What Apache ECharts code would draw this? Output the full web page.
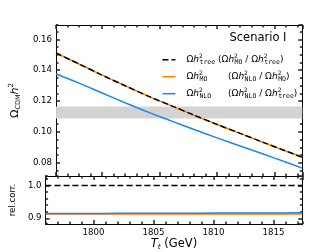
<!DOCTYPE html>
<html>
<head>
<meta charset="utf-8">
<script src="https://cdn.jsdelivr.net/npm/echarts@6/dist/echarts.min.js"></script>
<style>html,body{margin:0;padding:0;background:#fff}#c{width:336px;height:252px}</style>
</head>
<body>
<div id="c"></div>
<script>
// ---- data ----
const tGeV      = [1796, 1798, 1800, 1802, 1804, 1806, 1808, 1810, 1812, 1814, 1816, 1817.4];
const omegaTree = [0.1511, 0.1440, 0.1368, 0.1299, 0.1232, 0.1170, 0.1108, 0.1048, 0.0990, 0.0932, 0.0875, 0.0835];
const omegaMO   = [0.1511, 0.1440, 0.1368, 0.1299, 0.1232, 0.1170, 0.1108, 0.1048, 0.0990, 0.0932, 0.0875, 0.0835];
const omegaNLO  = [0.1375, 0.1316, 0.1252, 0.1189, 0.1128, 0.1071, 0.1015, 0.0961, 0.0908, 0.0856, 0.0803, 0.0765];
const ratioTree = [1.0, 1.0, 1.0, 1.0, 1.0, 1.0, 1.0, 1.0, 1.0, 1.0, 1.0, 1.0];
const ratioMO   = [0.913, 0.913, 0.913, 0.913, 0.913, 0.913, 0.913, 0.913, 0.913, 0.913, 0.913, 0.913];
const ratioNLO  = [0.9145, 0.9146, 0.9148, 0.9150, 0.9152, 0.9154, 0.9156, 0.9158, 0.9160, 0.9162, 0.9164, 0.9166];
const bandOmega = [0.1086, 0.1164];
// tick spacing (major / minor)
const xMajorStep = 5, xMinorStep = 1;
const yMainMajorStep = 0.02, yMainMinorStep = 0.005;
const yRelMajorStep = 0.1, yRelMinorStep = 0.02;

const FONT = 'DejaVu Sans';
const MONO = 'DejaVu Sans Mono';
const AX = '#000';
const TICK = '#222';
const ORANGE = '#ff8000';
const BLUE = '#1e88e5';

const xRange = {min: 1796, max: 1817.4};
const yMainRange = {min: 0.07138, max: 0.16927};
const yRelRange = {min: 0.8824, max: 1.0294};

// splitNumber chosen so that ECharts' nice interval equals the wanted step
const splitFor = (r, step) => Math.round((r.max - r.min) / step);

function axis(grid, pos, range, step, len, extra) {
  return Object.assign({
    type: 'value', gridIndex: grid, position: pos, min: range.min, max: range.max,
    splitNumber: splitFor(range, step),
    axisLine: {show: true, onZero: false, lineStyle: {color: AX, width: 1}},
    axisTick: {show: true, inside: true, length: len, lineStyle: {color: TICK, width: 1.5}},
    axisLabel: {show: false},
    splitLine: {show: false}
  }, extra || {});
}
const lbl = dec => ({show: true, showMinLabel: false, showMaxLabel: false, fontFamily: FONT, fontSize: 8.6,
  color: '#000', margin: 4, formatter: v => Number(v).toFixed(dec)});

const xAxes = [];
const yAxes = [];
// grid 0
xAxes.push(axis(0, 'bottom', xRange, xMajorStep, 4));          // 0
xAxes.push(axis(0, 'bottom', xRange, xMinorStep, 2.5, {interval: xMinorStep}));  // 1
xAxes.push(axis(0, 'top', xRange, xMajorStep, 4));             // 2
xAxes.push(axis(0, 'top', xRange, xMinorStep, 2.5, {interval: xMinorStep}));     // 3
// grid 1
xAxes.push(axis(1, 'bottom', xRange, xMajorStep, 4, {
  axisLabel: lbl(0),
  name: '{t|T}{s|t}{g| (GeV)}', nameLocation: 'middle', nameGap: 13,
  nameTextStyle: {rich: {
    t: {fontFamily: FONT, fontSize: 11.5, fontStyle: 'italic', lineHeight: 14, color: '#000'},
    s: {fontFamily: FONT, fontSize: 7.5, fontStyle: 'italic', lineHeight: 7, verticalAlign: 'bottom', color: '#000'},
    g: {fontFamily: FONT, fontSize: 11.5, lineHeight: 14, color: '#000'}
  }}
}));                                                            // 4
xAxes.push(axis(1, 'bottom', xRange, xMinorStep, 2.5, {interval: xMinorStep}));  // 5
xAxes.push(axis(1, 'top', xRange, xMajorStep, 4));             // 6
xAxes.push(axis(1, 'top', xRange, xMinorStep, 2.5, {interval: xMinorStep}));     // 7

yAxes.push(axis(0, 'left', yMainRange, yMainMajorStep, 4, {
  axisLabel: lbl(2),
  name: '{o|Ω}{c|CDM}{h|h}{p|2}', nameLocation: 'middle', nameRotate: 90, nameGap: 25,
  nameTextStyle: {rich: {
    o: {fontFamily: FONT, fontSize: 11, lineHeight: 14, color: '#000'},
    c: {fontFamily: FONT, fontSize: 6.5, lineHeight: 6, verticalAlign: 'bottom', color: '#000'},
    h: {fontFamily: FONT, fontSize: 11, fontStyle: 'italic', lineHeight: 14, color: '#000'},
    p: {fontFamily: FONT, fontSize: 7, lineHeight: 7, verticalAlign: 'top', color: '#000'}
  }}
}));                                                            // 0
yAxes.push(axis(0, 'left', yMainRange, yMainMinorStep, 2.5));  // 1
yAxes.push(axis(0, 'right', yMainRange, yMainMajorStep, 4));   // 2
yAxes.push(axis(0, 'right', yMainRange, yMainMinorStep, 2.5)); // 3
yAxes.push(axis(1, 'left', yRelRange, yRelMajorStep, 4, {
  axisLabel: lbl(1),
  name: 'rel.corr.', nameLocation: 'middle', nameRotate: 90, nameGap: 18,
  nameTextStyle: {fontFamily: FONT, fontSize: 8.6, color: '#000'}
}));                                                            // 4
yAxes.push(axis(1, 'left', yRelRange, yRelMinorStep, 2.5));    // 5
yAxes.push(axis(1, 'right', yRelRange, yRelMajorStep, 4));     // 6
yAxes.push(axis(1, 'right', yRelRange, yRelMinorStep, 2.5));   // 7

const pts = arr => tGeV.map((t, i) => [t, arr[i]]);
function lineSeries(name, arr, color, dashed, grid, z) {
  return {
    name: name, type: 'line', xAxisIndex: grid * 4, yAxisIndex: grid * 4,
    data: pts(arr), symbol: 'none', smooth: 0.3, z: z, silent: true, animation: false,
    lineStyle: {color: color, width: 1.5, type: dashed ? [6, 3] : 'solid', cap: 'butt'},
    itemStyle: {color: color}
  };
}

// legend rich text
const richL = {
  sp: {width: 6},
  m: {fontFamily: FONT, fontSize: 9, lineHeight: 12, color: '#000'},
  hi: {fontFamily: FONT, fontSize: 9, fontStyle: 'italic', lineHeight: 12, color: '#000'},
  p: {fontFamily: FONT, fontSize: 6, lineHeight: 6, verticalAlign: 'top', width: 0.5, color: '#000'},
  s: {fontFamily: MONO, fontSize: 6.5, lineHeight: 6, verticalAlign: 'bottom', color: '#000'},
  s1: {fontFamily: MONO, fontSize: 6.5, lineHeight: 6, verticalAlign: 'bottom', width: 18.5, color: '#000'},
  s2: {fontFamily: MONO, fontSize: 6.5, lineHeight: 6, verticalAlign: 'bottom', width: 28.5, color: '#000'}
};
const om = (sub, key) => '{m|Ω}{hi|h}{p|2}{' + (key || 's') + '|' + sub + '}';
const legendText = {
  'tree': '{sp|}' + om('tree', 's1') + '{m|(}' + om('MO') + '{m| / }' + om('tree') + '{m|)}',
  'MO':   '{sp|}' + om('MO', 's2') + '{m|(}' + om('NLO') + '{m| / }' + om('MO') + '{m|)}',
  'NLO':  '{sp|}' + om('NLO', 's2') + '{m|(}' + om('NLO') + '{m| / }' + om('tree') + '{m|)}'
};

const option = {
  animation: false,
  backgroundColor: '#fff',
  grid: [
    {left: 41.7, top: 25, width: 260.6, height: 151},
    {left: 41.7, top: 176, width: 260.6, height: 50}
  ],
  xAxis: xAxes,
  yAxis: yAxes,
  legend: {
    data: ['tree', 'MO', 'NLO'],
    orient: 'vertical', left: 161.7, top: 53.7,
    itemWidth: 13, itemHeight: 12, itemGap: 5,
    selectedMode: false, padding: 0,
    itemStyle: {opacity: 0},
    lineStyle: {width: 1.5},
    formatter: n => legendText[n],
    textStyle: {rich: richL, fontFamily: FONT, fontSize: 9}
  },
  graphic: [{
    type: 'text', right: 49.5, top: 32.5,
    style: {text: 'Scenario I', fontFamily: FONT, fontSize: 11.5, fill: '#000'}
  }],
  series: [
    {
      name: 'band', type: 'line', xAxisIndex: 0, yAxisIndex: 0, data: [], z: 1, silent: true,
      markArea: {silent: true, itemStyle: {color: '#d3d3d3'},
        data: [[{yAxis: bandOmega[0]}, {yAxis: bandOmega[1]}]]}
    },
    lineSeries('MO', omegaMO, ORANGE, false, 0, 2),
    lineSeries('NLO', omegaNLO, BLUE, false, 0, 3),
    lineSeries('tree', omegaTree, '#000', true, 0, 4),
    lineSeries('MOr', ratioMO, ORANGE, false, 1, 2),
    lineSeries('NLOr', ratioNLO, BLUE, false, 1, 3),
    lineSeries('treer', ratioTree, '#000', true, 1, 4)
  ]
};
const chart = echarts.init(document.getElementById('c'), null, {renderer: 'canvas'});
chart.setOption(option);
</script>
</body>
</html>
